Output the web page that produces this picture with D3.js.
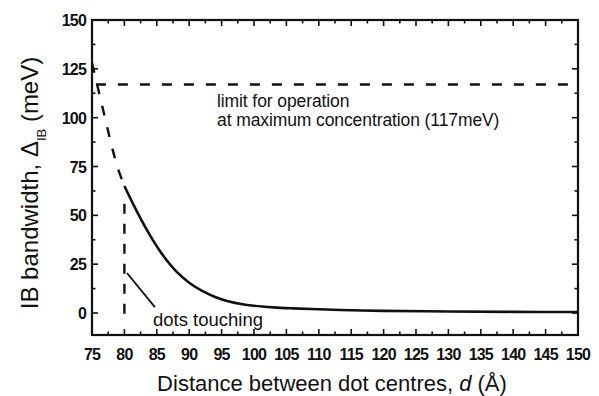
<!DOCTYPE html>
<html>
<head>
<meta charset="utf-8">
<script src="https://cdn.jsdelivr.net/npm/d3@7"></script>
<style>
  body { margin: 0; background: #fff; }
  text { font-family: 'Liberation Sans', Arial, sans-serif; fill: #111; }
  .tick-label { font-size: 16px; font-weight: bold; letter-spacing: -0.8px; }
</style>
</head>
<body>
<div id="chart"></div>
<script>
// band width vs dot spacing
const dSolid = [80, 82, 84, 86, 88, 90, 92, 94, 96, 98, 100, 103, 106, 110, 115, 120, 130, 140, 150];
const bwSolid = [65, 51.5, 39.5, 29.3, 21.3, 15.5, 11.3, 8.2, 6, 4.6, 3.7, 2.9, 2.4, 1.9, 1.4, 1.1, 0.8, 0.6, 0.5];
const dDashed = [75, 76, 77, 78, 79, 80];
const bwDashed = [128, 114, 100, 86, 74, 65];
const limitValue = 117;
const touchingD = 80;
const touchingRange = [-5, 56];
const xTicks = d3.range(75, 151, 5);
const yTicks = [0, 25, 50, 75, 100, 125, 150];

const width = 599, height = 396;
const plotLeft = 92, plotRight = 578, plotTop = 20, plotBottom = 335;

const svg = d3.select('#chart').append('svg')
  .attr('width', width)
  .attr('height', height);

const x = d3.scaleLinear().domain([75, 150]).range([plotLeft, plotRight]);
const y = d3.scaleLinear().domain([-11.25, 150]).range([plotBottom, plotTop]);

const line = d3.line()
  .x(d => x(d[0]))
  .y(d => y(d[1]))
  .curve(d3.curveCatmullRom);

// ticks on all four sides, pointing in
const xMinor = d3.range(77.5, 150, 5);
const yMinor = [12.5, 37.5, 62.5, 87.5, 112.5, 137.5];
const tickG = svg.append('g').attr('stroke', '#111').attr('stroke-width', 1.6);

xTicks.concat(xMinor).forEach(t => {
  const len = xTicks.includes(t) ? 6 : 3.5;
  tickG.append('line').attr('x1', x(t)).attr('x2', x(t)).attr('y1', plotBottom).attr('y2', plotBottom - len);
  tickG.append('line').attr('x1', x(t)).attr('x2', x(t)).attr('y1', plotTop).attr('y2', plotTop + len);
});
yTicks.concat(yMinor).forEach(t => {
  const len = yTicks.includes(t) ? 6 : 3.5;
  tickG.append('line').attr('x1', plotLeft).attr('x2', plotLeft + len).attr('y1', y(t)).attr('y2', y(t));
  tickG.append('line').attr('x1', plotRight).attr('x2', plotRight - len).attr('y1', y(t)).attr('y2', y(t));
});

svg.append('rect')
  .attr('x', plotLeft).attr('y', plotTop)
  .attr('width', plotRight - plotLeft).attr('height', plotBottom - plotTop)
  .attr('fill', 'none').attr('stroke', '#111').attr('stroke-width', 2.2);

// tick labels
svg.append('g').selectAll('text')
  .data(xTicks)
  .join('text')
  .attr('class', 'tick-label')
  .attr('x', d => x(d))
  .attr('y', plotBottom + 25)
  .attr('text-anchor', 'middle')
  .text(d => d);

svg.append('g').selectAll('text')
  .data(yTicks)
  .join('text')
  .attr('class', 'tick-label')
  .attr('x', plotLeft - 6)
  .attr('y', d => y(d) + 6)
  .attr('text-anchor', 'end')
  .text(d => d);

// limit line
svg.append('line')
  .attr('x1', x(75.6)).attr('x2', plotRight - 4)
  .attr('y1', y(limitValue)).attr('y2', y(limitValue))
  .attr('stroke', '#111').attr('stroke-width', 2.4)
  .attr('stroke-dasharray', '10,12');

// dashed part of the curve
svg.append('path')
  .datum(dDashed.map((d, i) => [d, bwDashed[i]]))
  .attr('fill', 'none').attr('stroke', '#111').attr('stroke-width', 2.4)
  .attr('stroke-dasharray', '10,12')
  .attr('d', line);

// solid part
svg.append('path')
  .datum(dSolid.map((d, i) => [d, bwSolid[i]]))
  .attr('fill', 'none').attr('stroke', '#111').attr('stroke-width', 2.6)
  .attr('d', line);

// dots touching marker
svg.append('line')
  .attr('x1', x(touchingD)).attr('x2', x(touchingD))
  .attr('y1', y(touchingRange[1])).attr('y2', y(touchingRange[0]))
  .attr('stroke', '#111').attr('stroke-width', 2.4)
  .attr('stroke-dasharray', '10,10');

svg.append('line')
  .attr('x1', x(80.4)).attr('y1', y(20.5))
  .attr('x2', x(84.7)).attr('y2', y(3))
  .attr('stroke', '#111').attr('stroke-width', 1.8);

svg.append('text')
  .attr('x', 153).attr('y', 326)
  .style('font-size', '18.5px').style('letter-spacing', '0px')
  .text('dots touching');

svg.append('text')
  .attr('x', 217).attr('y', 107)
  .style('font-size', '17.5px').style('letter-spacing', '-0.1px')
  .text('limit for operation');
svg.append('text')
  .attr('x', 217).attr('y', 126)
  .style('font-size', '17.5px').style('letter-spacing', '-0.1px')
  .text('at maximum concentration (117meV)');

// axis titles
const xt = svg.append('text')
  .attr('x', 332).attr('y', 391)
  .attr('text-anchor', 'middle')
  .style('font-size', '22px');
xt.append('tspan').text('Distance between dot centres, ');
xt.append('tspan').style('font-style', 'italic').text('d');
xt.append('tspan').text(' (Å)');

const yt = svg.append('text')
  .attr('transform', 'translate(38,183) rotate(-90)')
  .attr('text-anchor', 'middle')
  .style('font-size', '24px');
yt.append('tspan').text('IB bandwidth, Δ');
yt.append('tspan').attr('baseline-shift', 'sub').style('font-size', '13px').text('IB');
yt.append('tspan').text(' (meV)');
</script>
</body>
</html>
